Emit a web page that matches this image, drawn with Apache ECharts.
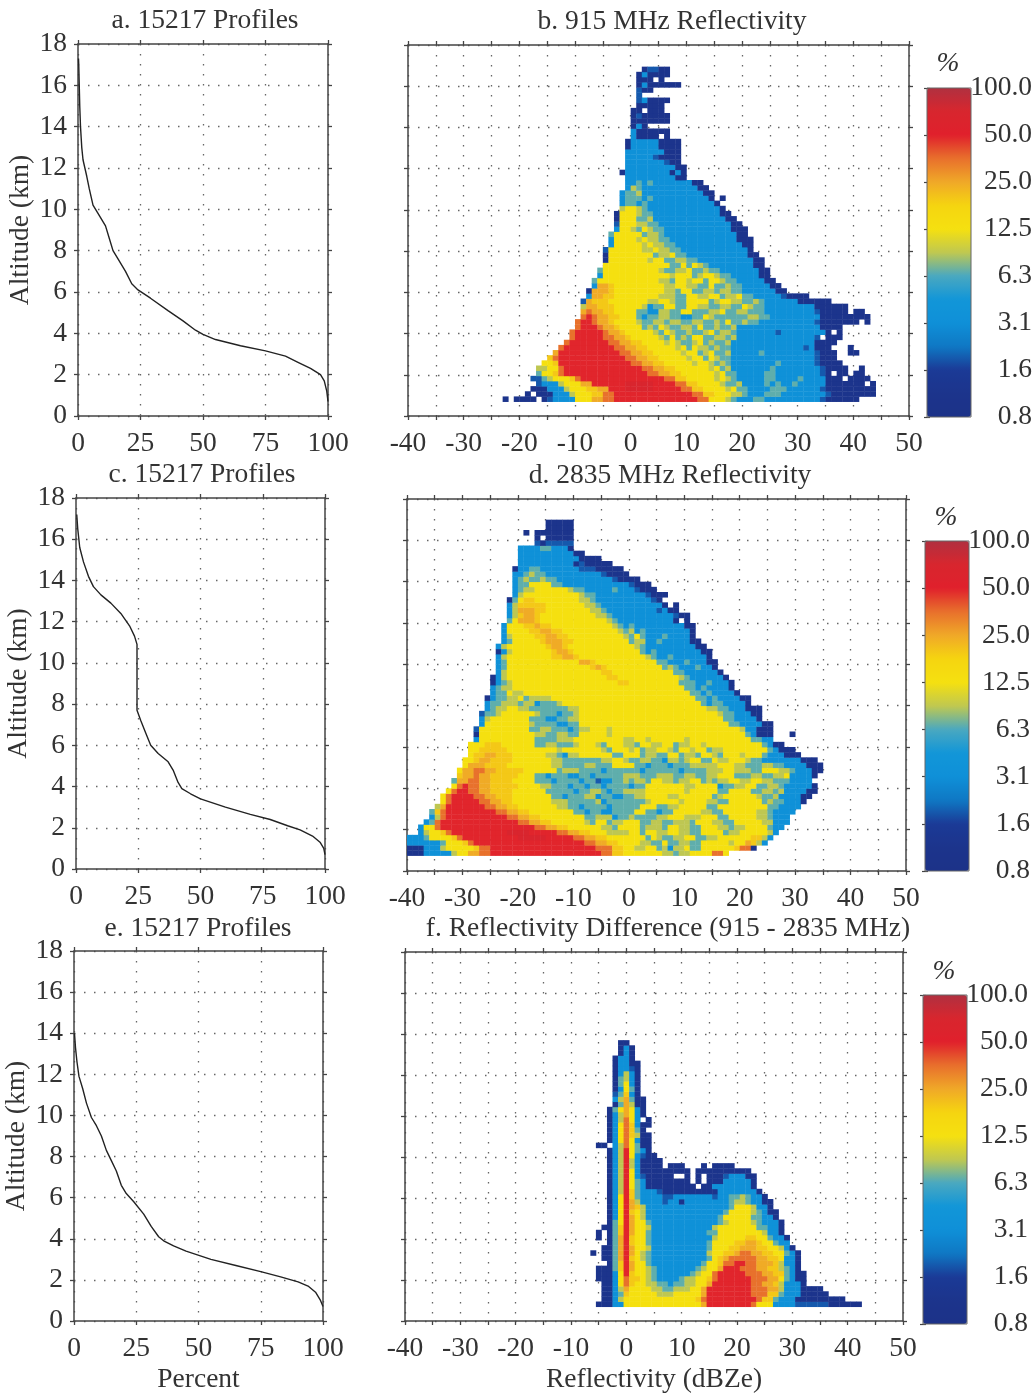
<!DOCTYPE html>
<html><head><meta charset="utf-8">
<style>html,body{margin:0;padding:0;background:#fff}#c{width:1036px;height:1395px}</style>
<script src="https://cdn.jsdelivr.net/npm/echarts@6/dist/echarts.min.js"></script>
</head><body><div id="c"></div>
<script>
const altitudeMax = 18, altitudeStep = 2;
const percentTicks = [0, 25, 50, 75, 100];
const dbzMin = -40, dbzMax = 50, dbzStep = 5, dbzLabelStep = 10;
const scaleLabels = ['0.8', '1.6', '3.1', '6.3', '12.5', '25.0', '50.0', '100.0'];
const scaleColors = ['#1c3288','#1c348c','#1b3a96','#0f78c4','#0f90d8','#1296d8','#4aa8c0','#c0c850','#f5e010','#f5d510','#f0a828','#e8702c','#e0202c','#d8262e','#b03040'];
const titles = ['a. 15217 Profiles','b. 915 MHz Reflectivity','c. 15217 Profiles','d. 2835 MHz Reflectivity','e. 15217 Profiles','f. Reflectivity Difference (915 - 2835 MHz)'];

// Percent of profiles above each altitude: [percent, altitude km]
const profileA = [[100,.7],[99.5,1.2],[98.5,1.7],[97,2],[93,2.3],[88,2.6],[83,2.9],[75,3.15],[65,3.4],[55,3.7],[50,3.95],[47,4.15],[42,4.6],[36,5.1],[29,5.7],[24,6.1],[21.5,6.4],[19,7],[16,7.6],[14,8],[12.5,8.6],[11,9.2],[8,9.8],[6,10.2],[4.5,11],[3.5,11.6],[2,12.4],[1.5,13],[1,14],[.7,15],[.5,16],[.3,17],[.2,17.3]];
const profileC = [[100,.7],[99.5,1],[98,1.3],[95,1.6],[90,1.9],[85,2.1],[78,2.4],[70,2.65],[60,3],[50,3.4],[46,3.65],[42.5,3.9],[41,4.2],[39,4.8],[37,5.2],[33,5.6],[30,6],[28,6.6],[26,7.2],[24.5,7.7],[24.5,8.5],[24.5,9.5],[24.5,10.9],[23.5,11.3],[21.5,11.8],[18,12.4],[14,12.9],[10,13.3],[7,13.7],[5,14.2],[3,14.9],[1.5,15.6],[.7,16.5],[.3,17.2]];
const profileE = [[100,.7],[99,1],[97,1.4],[94,1.7],[90,1.9],[83,2.15],[75,2.4],[65,2.7],[55,3],[45,3.4],[40,3.65],[36,3.9],[34,4.1],[31,4.6],[28,5.2],[24,5.8],[21,6.2],[19,6.6],[17,7.3],[15,7.8],[13,8.3],[11,9],[9,9.5],[7,9.9],[5,10.6],[3.5,11.3],[2,11.9],[1.2,12.6],[.6,13.3],[.2,14]];

// Frequency levels (percent) named by one character in the row strings below
const levelPercent = {'0':1.1,'1':1.9,'2':3.3,'3':6.8,'4':9,'5':13,'6':20,'7':25,'8':36,'9':50,'a':70};
const rowHeight = 0.25;

// One string per altitude row, bottom first. "start:codes" runs from that dBZ; the last code holds until the next start. '.' = empty.
const rowsB = [
"-23:0 -22:. -21:0 -17:. -16:0 -15:1 -14:2 -10:5 -7:7 -5:8 -3:9 12:8 14:5 17:4 18:3 19:2 22:3 24:2 34:1 35:0 41",
"-19:0 -18:. -17:0 -14:2 -11:4 -10:5 -7:6 -5:8 -3:9 11:8 13:6 15:5 18:4 20:3 21:2 24:3 27:2 35:1 36:0 44",
"-18:0 -15:2 -12:4 -11:5 -8:6 -6:7 -4:9 -1:a 4:9 9:8 11:6 13:5 17:4 18:5 19:3 21:2 25:3 28:2 34:1 35:0 44",
"-17:1 -16:2 -13:4 -12:5 -9:7 -7:9 -1:a 4:9 8:8 10:6 12:5 16:4 17:3 19:4 20:2 24:3 25:2 26:3 27:2 29:3 30:2 35:0 42:. 43:0 44",
"-18:1 -16:3 -15:4 -14:5 -11:6 -10:8 -9:9 6:8 8:6 10:5 15:4 16:5 17:4 18:3 19:2 24:3 26:2 30:3 31:2 35:0 38:. 39:0 43",
"-17:3 -16:5 -14:6 -13:8 -12:9 3:8 5:7 7:6 9:5 15:4 16:5 17:3 19:2 24:3 26:2 34:1 35:0 36:. 37:0 39:. 40:0 42",
"-17:4 -15:5 -13:8 -12:9 2:8 4:7 6:6 8:5 14:4 15:5 16:3 17:4 18:2 25:3 26:2 34:1 35:0 39:. 41:0 42",
"-16:5 -14:6 -13:9 0:8 2:7 4:6 6:5 11:4 12:5 14:4 15:3 16:4 17:3 18:2 26:3 27:2 33:1 34:0 38",
"-15:6 -14:8 -13:9 -1:8 1:7 3:6 5:5 10:4 11:5 13:3 14:5 15:4 16:3 18:2 33:1 34:0 37",
"-14:7 -13:9 -2:8 0:7 2:6 4:5 9:4 10:5 12:3 13:4 14:5 15:3 17:4 18:2 23:3 24:2 33:1 34:0 37:. 39:0 41",
"-13:8 -12:9 -3:8 -1:7 1:6 3:5 8:4 9:5 10:3 11:5 12:4 14:3 15:4 16:3 18:2 31:1 32:2 33:0 36:. 39:0 40",
"-12:8 -11:9 -4:8 -2:7 0:6 2:5 6:4 7:5 8:4 9:3 11:4 12:5 13:3 14:4 15:3 17:4 18:2 33:0 37",
"-11:8 -10:9 -5:8 -3:7 -1:6 0:5 5:4 6:3 7:5 8:3 9:4 10:3 11:5 13:3 15:4 17:3 18:4 19:2 33:1 34:. 35:0 38",
"-11:8 -10:9 -5:8 -4:7 -2:6 -1:5 4:4 5:3 6:5 7:4 8:3 10:4 11:3 13:4 14:5 15:3 16:4 18:3 19:2 26:1 27:2 35:0 36:. 37:0 38",
"-10:8 -9:9 -6:8 -5:7 -3:6 -2:5 2:3 3:4 4:3 5:5 6:4 7:3 9:4 11:3 12:5 13:3 15:4 16:3 18:4 19:2 34:0 38",
"-10:8 -9:9 -7:8 -6:7 -4:6 -3:5 1:4 2:3 4:4 6:3 7:4 9:3 11:4 13:3 15:4 16:3 17:5 18:3 20:4 21:3 23:2 33:1 34:0 41:. 42:0 43",
"-9:8 -8:9 -7:8 -6:7 -4:6 -2:5 1:3 2:2 3:3 5:4 7:3 9:2 11:3 13:5 14:4 15:3 19:3 21:4 23:3 25:2 34:0 43",
"-9:7 -8:8 -7:7 -5:6 -3:5 1:3 3:2 5:4 7:3 9:5 11:3 13:3 14:4 16:5 17:3 19:4 21:3 24:2 33:1 34:0 39:. 40:0 42",
"-9:4 -8:7 -6:6 -3:5 2:4 3:2 4:3 6:5 8:3 10:5 12:4 14:3 16:4 18:3 20:5 21:4 22:3 24:2 33:0 39",
"-9:1 -8:7 -7:6 -4:5 1:5 3:4 5:5 7:4 8:3 10:5 14:3 15:4 16:5 18:4 20:3 22:4 23:3 24:2 30:0 36",
"-8:2 -7:7 -5:6 -3:5 5:4 8:3 10:5 12:4 14:5 16:3 17:4 19:5 20:3 22:2 27:1 28:0 32",
"-8:0 -7:7 -4:6 -3:5 6:4 8:3 9:5 11:3 13:4 15:3 16:4 18:3 20:2 26:0 28",
"-7:2 -6:7 -4:6 -3:5 6:4 8:5 10:4 12:3 14:5 15:3 17:4 18:3 20:2 25:0 27",
"-7:3 -6:5 5:4 7:3 8:5 10:4 11:5 13:3 14:5 16:4 17:3 19:2 24:0 26",
"-6:2 -5:5 7:4 8:5 11:3 12:4 13:5 15:4 16:3 18:2 23:0 25",
"-6:3 -5:5 5:4 6:3 8:4 10:5 11:3 13:4 14:3 16:2 23:0 25",
"-5:5 7:3 9:5 10:3 11:5 12:4 13:3 14:2 22:0 24",
"-5:0 -4:5 3:4 4:5 6:3 8:4 10:3 12:2 22:0 24",
"-5:0 -4:5 4:3 5:4 7:5 8:3 10:2 21:0 23",
"-5:1 -4:5 2:4 4:5 5:4 7:3 9:2 21:0 22",
"-4:2 -3:5 2:4 3:5 4:4 6:3 8:2 20:0 22",
"-4:2 -3:5 1:4 2:5 3:4 5:3 7:2 19:0 22",
"-4:3 -3:5 2:3 3:4 5:3 6:2 19:0 21",
"-3:2 -2:5 0:4 1:3 2:5 3:4 4:3 6:2 18:0 21",
"-3:1 -2:5 1:4 3:3 5:2 18:0 20",
"-3:0 -2:5 1:3 3:4 4:2 17:0 19",
"-3:0 -2:5 1:4 2:3 4:2 16:0 18",
"-2:4 -1:5 1:4 2:3 3:2 16:0 17",
"-2:2 -1:3 1:2 2:3 3:2 15:0 16",
"-2:2 -1:3 2:2 3:3 4:2 14:0 15:. 16:0 17",
"-2:2 -1:3 1:4 2:2 13:0 15",
"-1:2 0:4 1:3 2:2 12:0 14",
"-1:2 1:3 2:2 3:3 4:2 11:0 13",
"-1:2 8:0 10",
"-2:0 -1:2 7:0 8:2 9:0 10",
"-1:2 8:0 10",
"-1:2 6:1 7:0 9",
"-1:2 4:1 5:0 9",
"-1:2 6:0 9",
"-1:0 0:2 5:0 9",
"-1:0 0:2 5:0 9",
"0:2 1:0 5:. 6:0 7",
"0:2 1:0 7",
"0:0 1:2 2:0 3",
"0:0 7",
"0:0 1:1 2:0 7",
"0:0 2:. 3:0 6",
"1:0 6",
"1:1 2:2 3:0 7",
"1:1 2",
"1:1 2:0 4",
"1:0 2:2 3:0 9",
"1:0 4:. 5:0 6",
"1:0 2:2 3:0 7",
"2:0 3:1 5:0 7"
];
const rowsD = [
"-40:0 -37:2 -32:4 -31:5 -29:7 -27:8 -25:9 -5:8 -3:6 -1:5 6:4 8:3 9:4 11:5 15:8 17:5 18",
"-40:0 -37:2 -34:4 -33:5 -28:6 -27:8 -25:9 -6:8 -3:6 -1:5 1:4 3:5 5:3 6:4 7:2 8:4 10:5 11:3 13:5 19:6 20:8 22:0 23",
"-40:2 -34:3 -33:5 -30:6 -29:8 -28:9 -8:8 -6:7 -4:6 -2:5 2:4 4:3 6:5 7:3 9:4 11:3 13:5 18:4 19:5 21:7 22:6 23:4 24:2 25",
"-40:2 -37:3 -36:5 -32:6 -31:8 -30:9 -20:a -15:9 -10:8 -8:7 -6:6 -4:5 3:3 4:5 5:4 6:3 8:4 10:5 12:3 14:4 16:5 22:6 24:4 25:2 26",
"-38:2 -37:4 -36:5 -34:6 -33:8 -32:9 -22:a -18:9 -13:8 -11:7 -9:6 -7:5 -4:4 0:5 2:3 3:5 5:4 7:5 9:4 11:3 13:5 17:3 18:4 20:5 25:4 26:2 27",
"-38:2 -37:5 -35:8 -34:9 -17:8 -15:7 -13:6 -11:5 -5:4 -3:3 -2:5 2:3 3:4 6:3 7:5 9:4 11:3 13:5 16:4 18:3 19:4 21:5 25:3 26:2 28",
"-37:2 -36:3 -35:8 -34:9 -20:8 -18:7 -16:6 -14:5 -8:4 -7:3 -6:5 -4:3 -3:4 -1:5 2:3 4:4 6:3 8:4 11:3 12:5 15:4 17:3 19:5 24:4 26:2 29",
"-36:2 -35:4 -34:8 -33:9 -22:8 -20:7 -18:6 -16:5 -8:3 -6:4 -3:2 -2:3 0:4 1:3 5:4 7:5 10:4 13:5 16:3 18:5 23:4 25:3 26:2 29",
"-36:3 -35:6 -34:8 -33:9 -24:8 -22:7 -20:6 -18:5 -10:3 -8:2 -7:3 -5:2 -3:3 1:5 3:3 5:2 6:3 8:5 13:4 15:3 17:5 23:4 25:3 26:2 30",
"-35:4 -34:7 -33:9 -26:8 -24:7 -22:6 -20:5 -13:4 -11:3 -9:2 -8:3 -4:2 -3:3 2:5 5:3 7:4 9:5 14:3 16:5 25:3 27:2 31",
"-34:5 -33:8 -32:9 -27:8 -25:7 -23:6 -21:5 -14:4 -11:3 -6:4 -5:2 -4:3 3:4 4:5 9:4 10:5 14:4 16:3 18:5 24:3 25:4 26:3 28:2 31:0 32",
"-34:5 -33:8 -32:9 -28:8 -26:7 -24:6 -21:5 -14:3 -12:2 -11:3 -8:4 -6:2 -5:3 -3:2 -1:3 1:4 3:5 7:4 9:5 15:3 16:4 17:5 23:4 24:3 26:4 27:2 31:0 33",
"-33:5 -32:8 -31:9 -29:8 -27:7 -25:6 -21:5 -15:3 -10:2 -9:3 -7:4 -5:3 -4:2 -3:3 -1:4 3:5 10:4 11:5 16:3 18:5 22:3 24:4 26:3 27:4 28:2 32:0 34",
"-32:5 -31:8 -30:9 -29:8 -27:7 -25:6 -20:5 -16:4 -14:3 -11:2 -10:3 -8:2 -7:3 -5:2 -4:3 0:2 1:3 3:5 10:4 12:5 16:2 17:3 19:4 21:5 23:3 25:4 27:3 28:2 33:0 34",
"-32:3 -31:7 -29:8 -27:7 -25:6 -21:5 -17:3 -14:2 -13:3 -9:2 -8:3 -6:1 -5:2 -3:3 -1:4 0:3 1:4 3:3 4:5 6:4 8:3 9:4 11:5 13:3 14:4 15:3 16:4 18:5 20:4 22:5 24:4 26:3 29:2 33",
"-31:6 -30:7 -28:8 -27:7 -25:6 -20:5 -17:3 -15:2 -14:3 -11:2 -9:3 -7:2 -6:3 -1:4 2:3 5:4 8:3 10:4 12:3 14:4 16:5 19:3 22:4 24:3 26:4 28:5 29:2 33:0 34",
"-31:5 -30:7 -28:8 -26:7 -24:6 -19:5 -13:3 -12:4 -9:3 -5:2 -4:3 2:2 3:3 9:2 10:3 14:4 17:5 19:4 22:3 24:5 27:4 29:3 30:2 33:0 35",
"-30:5 -29:7 -26:6 -22:5 -14:4 -12:3 -8:4 -6:3 -3:5 1:3 3:2 4:3 7:2 8:3 11:4 16:5 19:4 21:3 24:4 26:3 28:2 32:0 35",
"-30:5 -28:6 -27:7 -25:6 -21:5 -14:4 -12:3 -5:4 -3:5 -1:4 0:3 2:4 4:3 6:2 7:4 9:3 10:4 11:5 13:3 15:5 16:4 18:5 21:4 22:3 24:2 31:0 34",
"-29:5 -28:6 -26:7 -24:6 -21:5 -15:4 -13:3 -12:2 -11:4 -9:5 -3:3 -1:5 2:3 3:4 5:3 7:5 9:3 10:4 12:3 13:5 15:4 16:3 17:5 20:4 21:5 24:3 25:2 28:0 31",
"-29:5 -27:6 -22:5 -13:4 -12:5 -5:4 -4:3 -3:5 0:4 1:5 2:3 3:4 5:5 7:4 8:3 9:5 11:4 12:5 14:3 15:4 17:5 25:3 26:2 27:0 30",
"-29:5 -26:6 -23:5 -17:3 -15:4 -13:3 -10:4 -9:5 -6:4 -5:3 -4:5 -1:4 1:3 2:5 4:4 6:5 8:3 9:4 11:5 13:4 14:5 24:3 25:2 26:0 28",
"-28:2 -27:5 -17:3 -13:4 -10:5 -1:4 1:5 3:4 4:5 10:4 11:5 22:3 24:2 26",
"-28:0 -27:5 -17:4 -15:3 -13:4 -11:3 -9:5 -4:4 -3:5 21:3 22:2 23:0 26:. 29:0 30",
"-28:1 -27:5 -18:3 -16:4 -14:3 -11:2 -10:3 -9:4 -7:5 -4:4 -3:5 20:4 21:2 23:0 26",
"-27:2 -26:5 -18:4 -17:3 -13:2 -11:3 -9:5 18:3 20:2 24:0 26",
"-27:2 -26:4 -25:5 -18:3 -15:2 -13:3 -11:4 -9:5 17:3 19:2 23:0 24",
"-27:1 -26:3 -24:4 -23:5 -17:4 -16:3 -13:2 -12:3 -10:4 -9:5 16:4 17:3 19:2 22:0 24",
"-26:2 -25:3 -24:4 -22:5 -20:4 -18:3 -11:4 -9:5 14:4 16:3 18:2 21:0 24",
"-26:2 -25:3 -23:4 -20:3 -19:4 -17:2 -16:3 -13:4 -12:5 13:3 14:2 15:3 17:2 21:0 22",
"-26:0 -25:2 -24:3 -22:4 -20:5 -19:3 -18:4 -14:5 12:3 14:2 15:3 16:2 20:0 22",
"-25:2 -24:3 -22:5 -21:4 -19:5 11:3 13:2 14:3 15:2 19:0 20",
"-25:2 -24:3 -23:4 -21:5 10:3 12:2 13:3 14:2 18:0 19",
"-25:0 -24:2 -23:3 -22:4 -21:5 -2:6 0:5 9:3 12:2 14:3 15:2 18:0 19",
"-25:0 -24:2 -23:4 -22:5 -4:6 -2:5 9:4 10:3 11:2 17:0 18",
"-24:2 -23:4 -22:5 -5:6 -3:5 8:3 10:2 16:0 17",
"-24:2 -23:3 -22:5 -7:6 -6:7 -5:6 -4:5 6:3 7:4 8:3 9:2 12:3 13:2 15:0 16",
"-24:2 -23:3 -22:5 -9:7 -7:6 -6:5 5:3 7:2 10:3 11:2 14:0 16",
"-24:2 -23:4 -22:5 -14:6 -12:7 -10:6 -9:5 3:4 4:3 5:2 7:3 8:2 14:0 15",
"-24:0 -23:2 -22:4 -21:5 -14:6 -13:7 -11:6 -10:5 2:3 3:2 4:3 5:2 13:0 15",
"-24:2 -23:4 -22:5 -15:6 -14:7 -12:6 -11:5 1:4 2:3 3:2 12:0 14",
"-23:2 -22:3 -21:5 -16:6 -15:7 -12:6 -10:5 0:3 1:4 3:2 5:3 6:2 11:0 13",
"-23:2 -22:4 -21:5 -17:6 -15:7 -13:6 -11:5 -1:4 0:3 1:5 2:3 3:2 6:3 7:2 11:0 12",
"-23:2 -22:5 -18:6 -16:7 -14:6 -12:5 -2:4 -1:3 0:4 1:2 2:3 3:2 11:0 12",
"-23:2 -22:5 -19:6 -17:7 -16:6 -14:5 -3:4 -2:3 -1:2 0:3 1:2 10:0 12",
"-22:3 -21:5 -20:7 -17:6 -16:5 -4:4 -3:3 -2:2 8:0 9:. 10:0 11",
"-22:2 -21:4 -20:6 -19:7 -17:6 -16:5 -6:4 -4:3 -3:2 8:1 9:0 11",
"-22:2 -21:4 -20:7 -17:6 -15:5 -7:4 -5:3 -4:2 5:1 6:2 7:0 9",
"-22:2 -21:4 -20:6 -15:5 -8:4 -6:3 -5:2 6:0 7:. 8:0 9",
"-22:0 -21:3 -20:5 -19:6 -17:5 -9:4 -7:3 -6:2 4:1 5:0 6:. 7",
"-21:2 -20:4 -19:5 -9:4 -8:3 -6:2 3:1 4:0 7",
"-21:2 -20:3 -19:4 -17:5 -11:4 -10:3 -8:2 -3:3 -2:2 1:1 2:0 5",
"-21:2 -20:3 -18:5 -14:3 -12:2 0:1 1:0 4",
"-21:2 -20:3 -19:4 -18:3 -16:4 -15:3 -13:2 -3:1 -2:0 2",
"-21:2 -19:3 -18:4 -17:3 -15:2 -5:1 -4:0 0",
"-21:0 -20:2 -18:3 -16:2 -9:1 -6:0 -1",
"-20:2 -10:0 -9:1 -8:0 -3",
"-20:2 -9:0 -5",
"-20:2 -10:0 -8",
"-20:2 -16:3 -14:2 -11:0 -10",
"-17:1 -16:0 -15:1 -10",
"-17:0 -16:. -15:0 -10",
"-19:0 -18:. -17:0 -10",
"-15:0 -10",
"-15:0 -10"
];
const rowsF = [
"-5:0 -2:2 0:5 14:7 15:9 23:8 24:5 27:2 31:1 37:0 43",
"-4:0 -2:2 -1:4 0:5 13:6 14:8 15:9 24:8 25:6 27:3 28:2 31:0 40",
"-4:0 -2:2 -1:3 0:6 1:5 6:4 9:5 14:7 15:9 23:8 26:6 28:3 29:2 32:0 37",
"-4:0 -2:2 -1:4 0:7 1:5 5:4 7:3 9:4 12:5 14:7 15:9 23:8 26:7 28:4 29:2 32:0 36",
"-4:0 -2:2 -1:5 0:8 1:6 2:5 4:4 6:3 8:2 9:3 11:4 13:5 15:7 16:9 23:8 25:7 27:6 28:4 29:2 32:0 33",
"-5:0 -2:2 -1:5 0:8 1:6 3:5 4:4 5:3 6:2 10:3 11:4 13:5 15:6 16:8 17:9 23:8 26:7 28:5 29:3 30:2 31:0 33",
"-5:0 -2:2 -1:5 0:9 1:6 2:5 4:4 5:3 6:2 12:3 13:4 14:5 16:8 17:9 22:8 25:7 27:6 29:3 30:2 31:0 33",
"-5:0 -2:3 -1:6 0:9 1:7 2:5 4:4 5:3 6:2 13:3 14:4 15:5 17:7 18:9 21:8 24:7 26:6 28:4 29:3 30:2 31:0 32",
"-3:0 -2:3 -1:6 0:9 1:7 2:5 4:3 5:2 14:3 15:5 17:6 18:8 20:9 22:8 24:7 27:6 28:4 29:2 31:0 32",
"-4:0 -2:3 -1:7 0:9 1:6 2:5 3:4 4:3 5:2 15:3 16:5 17:6 18:7 19:8 24:7 26:6 28:5 29:2 31:0 32",
"-6:0 -5:. -4:0 -2:3 -1:7 0:9 1:7 2:5 3:4 4:3 5:2 15:4 16:5 18:6 20:7 21:8 23:7 25:6 27:5 29:3 30:2 31:0 32",
"-4:0 -2:3 -1:7 0:9 1:7 2:5 4:4 5:2 15:3 16:5 19:6 21:7 24:6 26:5 28:4 29:2 30:0 31",
"-3:0 -2:3 -1:7 0:9 1:6 2:5 4:3 5:2 15:3 16:5 20:6 22:7 24:6 25:5 27:3 28:2 30",
"-5:0 -4:. -3:0 -2:3 -1:7 0:9 1:6 2:5 4:3 5:2 15:2 16:4 17:5 22:6 24:5 26:3 27:2 29:0 30",
"-5:0 -4:. -3:0 -2:3 -1:6 0:9 1:7 2:5 4:3 5:2 15:3 17:5 25:4 26:2 28:0 29",
"-4:0 -2:3 -1:6 0:9 1:7 2:5 4:4 5:2 15:2 16:4 17:5 24:3 26:2 28:0 29",
"-3:0 -2:3 -1:5 0:9 1:7 2:5 4:3 5:2 17:3 18:4 19:5 23:4 24:3 25:2 28:0 29",
"-3:0 -2:2 -1:5 0:9 1:7 2:5 3:4 4:2 17:3 18:5 23:3 25:2 27:0 28",
"-3:0 -2:2 -1:5 0:9 1:6 2:5 3:4 4:2 18:3 19:5 23:4 24:3 25:2 26:0 28",
"-3:0 -2:2 -1:5 0:9 1:7 2:6 3:4 4:2 18:2 19:3 20:5 23:4 24:2 26:0 27",
"-3:0 -2:2 -1:5 0:9 1:7 2:4 3:2 7:1 8:2 10:0 11:2 19:3 20:4 22:3 23:2 25:0 27",
"-3:0 -2:2 -1:5 0:9 1:6 2:3 3:2 7:1 9:2 16:1 17:2 19:3 21:4 22:3 23:2 25:0 26",
"-3:0 -2:2 -1:4 0:9 1:6 2:3 3:2 6:1 7:0 17:2 24:0 25",
"-3:0 -2:2 -1:4 0:9 1:5 2:3 3:2 4:0 13:. 14:0 16:2 23:0 24",
"-3:0 -2:2 -1:4 0:9 1:5 2:3 3:2 4:0 12:. 13:0 14:. 15:0 18:2 23:0 24",
"-3:0 -2:2 -1:4 0:9 1:5 2:2 3:1 4:0 9:. 11:0 12:. 13:0 14:. 15:0 18:1 19:2 22:0 24",
"-3:0 -2:2 -1:4 0:9 1:5 2:2 3:0 12:. 13:0 23",
"-3:0 -2:2 -1:4 0:9 1:4 2:2 3:0 7:. 8:0 11:. 14:0 15:. 16:0 20",
"-3:0 -2:2 -1:4 0:9 1:4 2:2 3:0 7",
"-3:0 -2:2 -1:4 0:9 1:5 2:2 3:1 4:0 6",
"-3:0 -2:2 -1:4 0:9 1:5 2:3 3:2 4:0 5",
"-5:0 -3:. -2:2 -1:4 0:8 1:5 2:3 3:0 5",
"-3:0 -2:2 -1:5 0:8 1:5 2:2 3:0 5",
"-3:0 -2:2 -1:5 0:8 1:6 2:4 3:0 5",
"-3:0 -2:2 -1:5 0:8 1:6 2:3 3:0 4",
"-3:0 -2:2 -1:5 0:8 1:6 2:2 3:0 5",
"-3:0 -2:2 -1:4 0:8 1:5 2:2 3:. 4:0 5",
"-3:0 -2:2 -1:4 0:7 1:5 2:2 3:0 4",
"-3:0 -2:3 -1:5 0:7 1:5 2:2 3:0 4",
"-2:0 -1:3 0:7 1:4 2:0 4",
"-2:2 -1:4 0:7 1:3 2:0 4",
"-2:1 -1:3 0:6 1:2 2:0 3",
"-2:0 -1:2 0:5 1:3 2:0 3",
"-2:0 -1:3 0:5 1:2 2:0 3",
"-2:0 -1:3 0:4 1:2 2:0 3",
"-2:0 -1:2 0:4 1:2 2:0 3",
"-2:0 -1:2 1:1 2:0 3",
"-2:0 -1:2 1:0 3",
"-2:0 -1:2 1:0 2",
"-1:0 0:2 1:0 2",
"-1:0 0:2 1:0 2",
"-1:0 1"
];

function cellsFrom(rows, base) {
  const out = [];
  rows.forEach((row, k) => {
    const toks = row.split(' ');
    toks.forEach((t, i) => {
      if (i === toks.length - 1) return;
      const [s, codes] = t.split(':');
      const start = +s, end = parseInt(toks[i + 1]);
      for (let x = start; x < end; x++) {
        const c = codes[Math.min(x - start, codes.length - 1)];
        if (c === '.') continue;
        const pct = levelPercent[c];
        out.push([x, base + rowHeight * k, pct, Math.log2(pct / 0.8)]);
      }
    });
  });
  return out;
}

const FONT = '"Liberation Serif", serif';
const TXT = '#333';
const FS = 27.5;
const tickFont = {fontFamily: FONT, fontSize: FS, color: TXT};
const nameFont = {fontFamily: FONT, fontSize: FS, color: TXT};
const lineDark = {color: '#444', width: 1.5};
const dots = {show: true, lineStyle: {type: [1.5, 8.5], color: '#666', width: 1.3}};

const option = {
  animation: false, backgroundColor: '#fff',
  title: [], grid: [], xAxis: [], yAxis: [], series: [], visualMap: []
};

function addAxes(rect, xCfg, yCfg) {
  const g = option.grid.length;
  option.grid.push({left: rect[0], top: rect[1], width: rect[2], height: rect[3], containLabel: false});
  const tick = {show: true, length: 4, lineStyle: {color: '#444', width: 1.3}};
  const xi = option.xAxis.length, yi = option.yAxis.length;
  const xLabel = Object.assign({show: true, margin: 14, ...tickFont, hideOverlap: false, showMinLabel: true, showMaxLabel: true}, xCfg.axisLabel || {});
  option.xAxis.push(Object.assign({gridIndex: g, type: 'value', position: 'bottom', axisLine: {show: true, onZero: false, lineStyle: lineDark}, axisTick: tick, splitLine: dots}, xCfg, {axisLabel: xLabel}));
  option.xAxis.push({gridIndex: g, type: 'value', position: 'top', min: xCfg.min, max: xCfg.max, interval: xCfg.interval, axisLine: {show: true, onZero: false, lineStyle: lineDark}, axisTick: tick, splitLine: {show: false}, axisLabel: {show: false}});
  option.yAxis.push(Object.assign({gridIndex: g, type: 'value', position: 'left', min: 0, max: altitudeMax, interval: altitudeStep, axisLine: {show: true, onZero: false, lineStyle: lineDark}, axisTick: tick, splitLine: dots, axisLabel: {show: true, margin: 11, padding: [9, 0, 0, 0], ...tickFont, showMinLabel: true, showMaxLabel: true}}, yCfg));
  option.yAxis.push({gridIndex: g, type: 'value', position: 'right', min: 0, max: altitudeMax, interval: altitudeStep, axisLine: {show: true, onZero: false, lineStyle: lineDark}, axisTick: tick, splitLine: {show: false}, axisLabel: {show: false}});
  return [xi, yi];
}

function addProfile(rect, data, xName) {
  const [xi, yi] = addAxes(rect,
    Object.assign({min: percentTicks[0], max: percentTicks[percentTicks.length - 1], interval: percentTicks[1] - percentTicks[0]},
      xName ? {name: xName, nameLocation: 'middle', nameGap: 45, nameTextStyle: nameFont} : {}),
    {name: 'Altitude (km)', nameLocation: 'middle', nameGap: 43, nameRotate: 90, nameTextStyle: nameFont});
  option.series.push({type: 'line', xAxisIndex: xi, yAxisIndex: yi, data, symbol: 'none', smooth: false, lineStyle: {color: '#222', width: 1.4}, silent: true, z: 3});
}

function addHeat(rect, rows, base, colShift, xName, barRect) {
  const [xi, yi] = addAxes(rect,
    Object.assign({min: dbzMin, max: dbzMax, interval: dbzStep, axisLabel: {formatter: v => (v % dbzLabelStep === 0 ? String(v) : '')}},
      xName ? {name: xName, nameLocation: 'middle', nameGap: 45, nameTextStyle: nameFont} : {}),
    {axisLabel: {show: false}});
  const sIdx = option.series.length;
  option.series.push({
    type: 'custom', xAxisIndex: xi, yAxisIndex: yi, data: cellsFrom(rows, base), encode: {x: 0, y: 1}, silent: true, z: 2, clip: true, progressive: 0,
    renderItem(params, api) {
      const x = api.value(0) + colShift, y = api.value(1);
      const a = api.coord([x, y + rowHeight]), b = api.coord([x + 1, y]);
      return {type: 'rect', shape: {x: a[0], y: a[1], width: b[0] - a[0] + 0.4, height: b[1] - a[1] + 0.4}, style: {fill: api.visual('color')}};
    }
  });
  option.visualMap.push({type: 'continuous', seriesIndex: sIdx, dimension: 3, min: 0, max: scaleLabels.length - 1, calculable: false, hoverLink: false, text: null, showLabel: false, padding: 0,
    left: barRect[0], top: barRect[1], itemWidth: barRect[2], itemHeight: barRect[3], orient: 'vertical', inRange: {color: scaleColors}, outOfRange: {color: 'transparent'}, zlevel: 0, z: 1});
  // colour-scale axis
  const g = option.grid.length;
  option.grid.push({left: barRect[0], top: barRect[1], width: barRect[2], height: barRect[3], show: true, borderColor: '#666', borderWidth: 1, z: 5, backgroundColor: 'transparent'});
  option.xAxis.push({gridIndex: g, type: 'value', min: 0, max: 1, show: false});
  const tk = {show: true, length: 3, lineStyle: {color: '#444', width: 1.2}};
  option.yAxis.push({gridIndex: g, type: 'value', position: 'right', min: 0, max: scaleLabels.length - 1, interval: 1, axisLine: {show: false}, axisTick: tk, splitLine: {show: false},
    axisLabel: {margin: 61, align: 'right', padding: [7, 0, 0, 0], ...tickFont, formatter: (v) => scaleLabels[v], showMinLabel: true, showMaxLabel: true, hideOverlap: false}});
  option.yAxis.push({gridIndex: g, type: 'value', position: 'left', min: 0, max: scaleLabels.length - 1, interval: 1, axisLine: {show: false}, axisTick: tk, splitLine: {show: false}, axisLabel: {show: false}});
}

function addTitle(text, cx, top, extra) {
  option.title.push({text, left: cx, top, textAlign: 'center', padding: 0, textStyle: Object.assign({fontFamily: FONT, fontSize: FS, fontWeight: 'normal', color: TXT}, extra || {})});
}

addProfile([78, 44, 250, 372], profileA);
addHeat([408, 45, 501, 371], rowsB, 0.7, 0, null, [927, 88, 44, 329]);
addProfile([76, 498, 249, 371], profileC);
addHeat([407, 499, 499, 372], rowsD, 0.75, 0, null, [925, 541, 44, 330]);
addProfile([74, 951, 249, 371], profileE, 'Percent');
addHeat([405, 952, 498, 371], rowsF, 0.7, -0.5, 'Reflectivity (dBZe)', [923, 995, 44, 329]);

addTitle(titles[0], 205, 7); addTitle(titles[1], 672, 8);
addTitle(titles[2], 202, 461); addTitle(titles[3], 670, 462);
addTitle(titles[4], 198, 915); addTitle(titles[5], 668, 915);
addTitle('%', 948, 50, {fontStyle: 'italic'});
addTitle('%', 946, 504, {fontStyle: 'italic'});
addTitle('%', 944, 958, {fontStyle: 'italic'});

const chart = echarts.init(document.getElementById('c'), null, {renderer: 'canvas'});
chart.setOption(option);
</script></body></html>
